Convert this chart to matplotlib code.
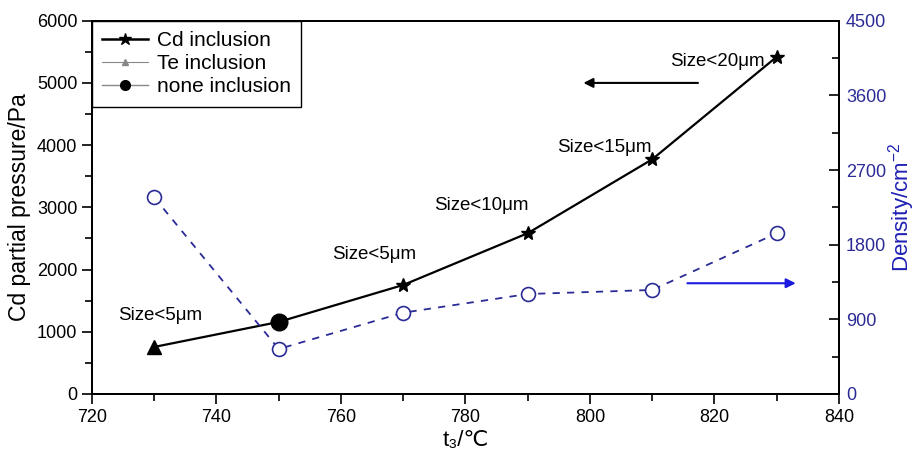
import matplotlib
matplotlib.use('Agg')
from matplotlib import pyplot as plt
from matplotlib.ticker import MultipleLocator
from matplotlib.lines import Line2D

plt.rcParams['font.family'] = ['Liberation Sans', 'DejaVu Sans', 'Noto Sans CJK SC']
plt.rcParams['mathtext.fontset'] = 'custom'
plt.rcParams['mathtext.rm'] = 'Liberation Sans'
plt.rcParams['mathtext.it'] = 'Liberation Sans:italic'

temps = [730, 750, 770, 790, 810, 830]
pressure = [756, 1158, 1752, 2584, 3772, 5420]
density = [2370, 542, 980, 1205, 1254, 1937]

size_labels = ['Size<5μm', 'Size<5μm', 'Size<10μm', 'Size<15μm', 'Size<20μm']
label_pos = [(724.2, 1120), (758.5, 2100), (775, 2890), (794.7, 3820), (812.9, 5210)]

BLUE = '#2b2b96'

fig = plt.figure(figsize=(9.17, 4.54), dpi=100)
ax = fig.add_axes([0.1003, 0.1322, 0.8146, 0.8222])
ax2 = ax.twinx()

# black pressure curve, markers drawn separately
ax.plot(temps, pressure, color='black', lw=1.6, zorder=3)
ax.plot(temps[2:], pressure[2:], ls='none', marker='*', ms=10, color='black', zorder=4)
ax.plot(temps[0], pressure[0], ls='none', marker='^', ms=10, color='black', zorder=4)
ax.plot(temps[1], pressure[1], ls='none', marker='o', ms=12, color='black', zorder=4)

ax2.plot(temps, density, color=BLUE, ls=(0, (4, 4)), lw=1.3, marker='o', ms=10,
         mfc='white', mec=BLUE, mew=1.2)

# size annotations
for (lx, ly), s in zip(label_pos, size_labels):
    ax.text(lx, ly, s, fontsize=13.5, va='bottom')

# direction arrows
ax.annotate('', xy=(798.5, 5000), xytext=(817.8, 5000),
            arrowprops=dict(arrowstyle='-|>', color='black', lw=1.5, mutation_scale=14))
ax.annotate('', xy=(833.5, 1780), xytext=(815.2, 1780),
            arrowprops=dict(arrowstyle='-|>', color='#1a1ae0', lw=1.5, mutation_scale=14))

ax.set_xlim(720, 840)
ax.set_ylim(0, 6000)
ax2.set_ylim(0, 4500)
ax.xaxis.set_major_locator(MultipleLocator(20))
ax.xaxis.set_minor_locator(MultipleLocator(10))
ax.yaxis.set_major_locator(MultipleLocator(1000))
ax.yaxis.set_minor_locator(MultipleLocator(500))
ax2.yaxis.set_major_locator(MultipleLocator(900))
ax2.yaxis.set_minor_locator(MultipleLocator(450))

ax.tick_params(axis='both', which='major', direction='out', length=7, width=1.2, labelsize=13)
ax.tick_params(axis='both', which='minor', direction='out', length=5, width=1.2)
ax.tick_params(axis='x', top=False, which='both')
ax2.tick_params(axis='y', which='major', direction='in', length=7, width=1.2,
                labelsize=13, labelcolor=BLUE, pad=5)
ax2.tick_params(axis='y', which='minor', direction='in', length=5, width=1.2)
for a in (ax, ax2):
    for s in a.spines.values():
        s.set_linewidth(1.4)

ax.set_ylabel('Cd partial pressure/Pa', fontsize=16.5, labelpad=4)
ax2.set_ylabel('Density/cm$^{-2}$', fontsize=16, color='#1f1fb4', labelpad=0)
ax.set_xlabel('t₃/℃', fontsize=16, labelpad=3)

handles = [
    Line2D([], [], color='black', lw=1.8, marker='*', ms=9),
    Line2D([], [], color='#888888', lw=0.8, marker='^', ms=5),
    Line2D([], [], color='#888888', lw=1.0, marker='o', ms=7, mfc='black', mec='black'),
]
leg = ax.legend(handles, ['Cd inclusion', 'Te inclusion', 'none inclusion'],
                loc='upper left', borderaxespad=0, fontsize=15, fancybox=False,
                edgecolor='black', framealpha=1, handlelength=2.2, labelspacing=0.2,
                borderpad=0.5, handletextpad=0.4)
leg.get_frame().set_linewidth(1.0)

fig.savefig('out.png', dpi=100)
